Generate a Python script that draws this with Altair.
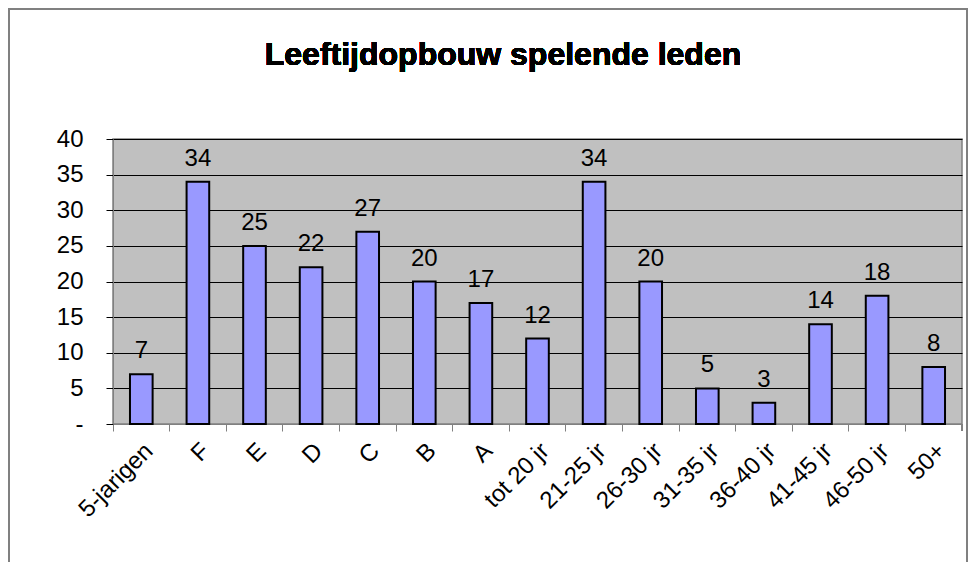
import altair as alt
import pandas as pd

categories = ["5-jarigen", "F", "E", "D", "C", "B", "A", "tot 20 jr", "21-25 jr",
              "26-30 jr", "31-35 jr", "36-40 jr", "41-45 jr", "46-50 jr", "50+"]
counts = [7, 34, 25, 22, 27, 20, 17, 12, 34, 20, 5, 3, 14, 18, 8]
y_ticks = [0, 5, 10, 15, 20, 25, 30, 35, 40]
title_text = "Leeftijdopbouw spelende leden"

df = pd.DataFrame({"cat": categories, "n": counts})

W, H = 849, 285
FONT = "Liberation Sans"
FS = 24

x = alt.X("cat:N", sort=categories, title=None,
          scale=alt.Scale(paddingInner=0, paddingOuter=0),
          axis=alt.Axis(labelAngle=-45, labelAlign="right", labelBaseline="middle",
                        labelFontSize=FS, labelFont=FONT, labelColor="black",
                        labelPadding=16, labelOffset=8, tickSize=7, tickColor="#808080",
                        domainColor="#808080", bandPosition=0, grid=False,
                        labelOverlap=False, labelLimit=0))
y = alt.Y("n:Q", title=None,
          scale=alt.Scale(domain=[0, 40], nice=False),
          axis=alt.Axis(values=y_ticks, labelExpr="datum.value == 0 ? '-' : datum.label",
                        labelFontSize=FS, labelFont=FONT, labelColor="black",
                        labelPadding=23, tickSize=7, tickColor="#000000",
                        domainColor="#808080", grid=True, gridColor="#000000",
                        gridOpacity=1, gridWidth=1, labelOverlap=False,
                        labelBound=False, labelFlush=False))

bars = alt.Chart(df).mark_bar(width=alt.RelativeBandSize(0.4), color="#9999ff",
                              stroke="black", strokeWidth=2).encode(x=x, y=y)

labels = alt.Chart(df).mark_text(baseline="alphabetic", dy=-16, fontSize=FS, font=FONT,
                                 color="black").encode(x=x, y=y, text="n:Q")

end_tick = alt.Chart(df).mark_rule(color="#808080").encode(
    x=alt.value(W), y=alt.value(H), y2=alt.value(H + 7))

border = alt.Chart(df).mark_rect(fill=None, stroke="#808080", strokeWidth=2).encode(
    x=alt.value(-104), x2=alt.value(W + 5), y=alt.value(-130), y2=alt.value(H + 300))

title = alt.Chart(df).mark_text(fontSize=32, font=FONT, fontWeight="bold",
                                color="black", baseline="middle").encode(
    x=alt.value(390), y=alt.value(-84), text=alt.value(title_text))

chart = alt.layer(bars, labels, end_tick, border, title).properties(
    width=W, height=H,
    padding={"left": 105, "top": 131, "right": 6, "bottom": 138},
    autosize=alt.AutoSizeParams(type="none"),
).configure_view(stroke="#808080", strokeWidth=1.5, fill="#c0c0c0")

chart.save("out.html", embed_options={"renderer": "svg", "actions": False})
